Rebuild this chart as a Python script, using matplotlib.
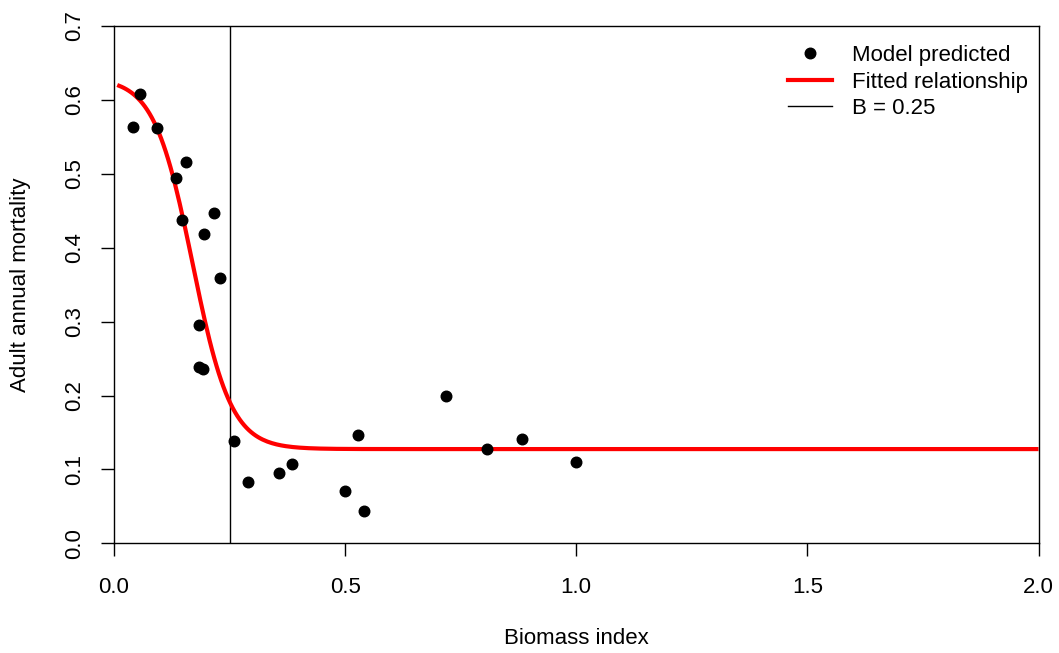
import numpy as np
import matplotlib
matplotlib.use('Agg')
from matplotlib import pyplot as plt
from matplotlib.lines import Line2D

#Model predicted points
biomass = [0.042, 0.056, 0.094, 0.134, 0.156, 0.147, 0.217, 0.195, 0.229, 0.184, 0.184, 0.192,
           0.260, 0.289, 0.358, 0.385, 0.499, 0.527, 0.541, 0.718, 0.807, 0.883, 1.000]
mortality = [0.563, 0.608, 0.562, 0.494, 0.516, 0.438, 0.447, 0.418, 0.359, 0.296, 0.239, 0.236,
             0.139, 0.083, 0.095, 0.107, 0.071, 0.146, 0.044, 0.199, 0.128, 0.141, 0.110]

#Fitted logistic relationship parameters
m_upper = 0.63
m_lower = 0.1275
b50 = 0.17
slope = 24.0
b_threshold = 0.25

x_ticks = [0.0, 0.5, 1.0, 1.5, 2.0]
y_ticks = [0.0, 0.1, 0.2, 0.3, 0.4, 0.5, 0.6, 0.7]

plt.rcParams['font.family'] = ['Liberation Sans', 'DejaVu Sans']
plt.rcParams['font.size'] = 16

W, H = 1059, 653
fig = plt.figure(figsize=(W/100, H/100), dpi=100)
ax = fig.add_axes([114/W, (H-543.3)/H, (1038.5-114)/W, (543.3-26)/H])

#curve
bx = np.linspace(0.007, 2.0, 400)
by = m_lower + (m_upper - m_lower) / (1 + np.exp(slope*(bx - b50)))

ax.axvline(b_threshold, color='black', lw=1)
ax.plot(bx, by, color='red', lw=3, solid_capstyle='butt')
ax.plot(biomass, mortality, 'o', color='black', ms=7.6, mec='black', ls='none')

ax.set_xlim(0, 2)
ax.set_ylim(0, 0.7)
ax.set_xticks(x_ticks)
ax.set_xticklabels([f'{v:.1f}' for v in x_ticks])
ax.set_yticks(y_ticks)
ax.set_yticklabels([f'{v:.1f}' for v in y_ticks], rotation=90, va='center')
ax.tick_params(axis='both', direction='out', length=9.6, width=1, color='black')
ax.tick_params(axis='x', pad=15)
ax.tick_params(axis='y', pad=11)
for s in ax.spines.values():
    s.set_linewidth(1)

ax.set_xlabel('Biomass index', va='center')
ax.xaxis.set_label_coords(0.5, (543.3-638)/517.3)
ax.set_ylabel('Adult annual mortality', va='center')
ax.yaxis.set_label_coords((21-114)/924.5, 0.5)

handles = [Line2D([], [], marker='o', color='black', ls='none', ms=7.6),
           Line2D([], [], color='red', lw=3),
           Line2D([], [], color='black', lw=1)]
labels = ['Model predicted', 'Fitted relationship', 'B = 0.25']
fig.legend(handles, labels, loc='upper right', bbox_to_anchor=(1028/W, 1-45/H),
           frameon=False, borderpad=0, borderaxespad=0, handlelength=2.0,
           handletextpad=0.9, labelspacing=0.25, fontsize=16, numpoints=1)

fig.savefig('out.png', dpi=100)
